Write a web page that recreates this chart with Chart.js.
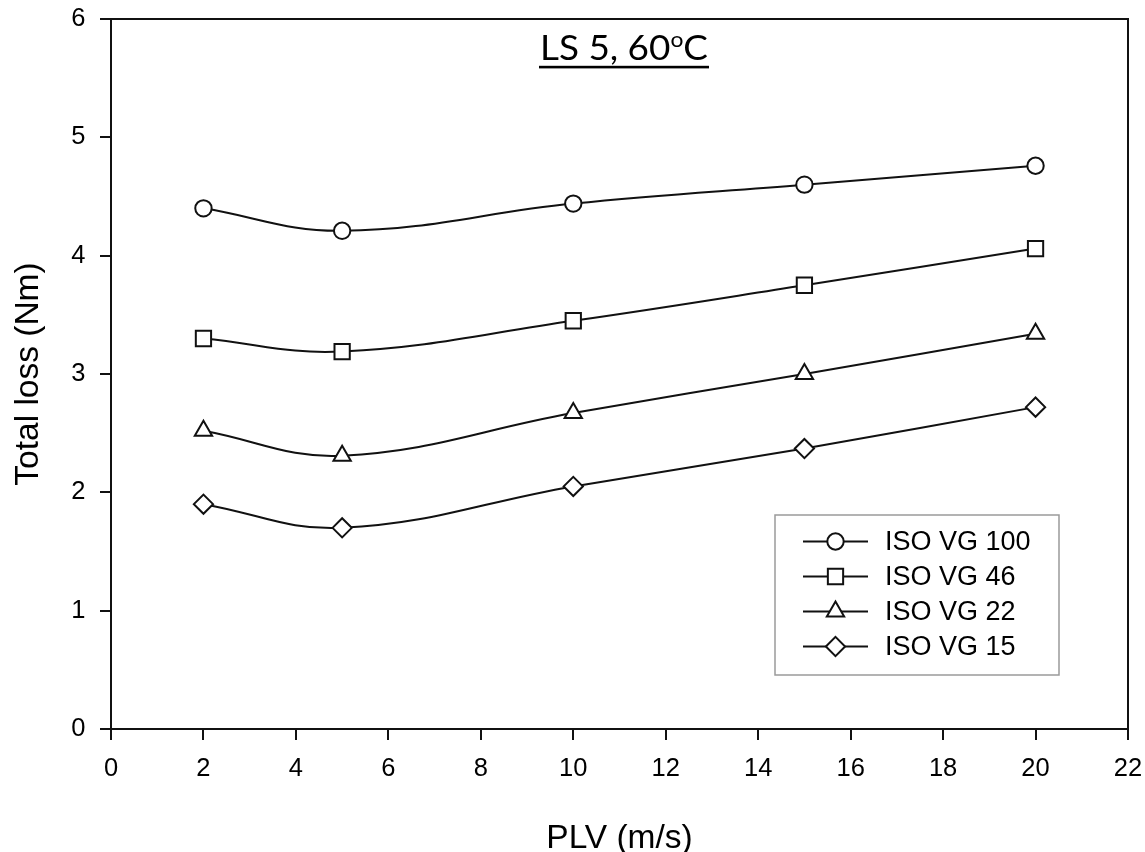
<!DOCTYPE html>
<html>
<head>
<meta charset="utf-8">
<script src="https://cdn.jsdelivr.net/npm/chart.js@4/dist/chart.umd.min.js"></script>
<style>
  html, body { margin: 0; padding: 0; background: #ffffff; }
  #wrap { width: 1145px; height: 852px; }
</style>
</head>
<body>
<div id="wrap"><canvas id="c" width="1145" height="852"></canvas></div>
<script>
// Pitch line velocity (m/s) and total loss (Nm) for each oil grade
const plv = [2, 5, 10, 15, 20];
const isoVG100 = [4.40, 4.21, 4.44, 4.60, 4.76];
const isoVG46  = [3.30, 3.19, 3.45, 3.75, 4.06];
const isoVG22  = [2.52, 2.31, 2.67, 3.00, 3.34];
const isoVG15  = [1.90, 1.70, 2.05, 2.37, 2.72];
const seriesNames = ['ISO VG 100', 'ISO VG 46', 'ISO VG 22', 'ISO VG 15'];
const xTickValues = [0, 2, 4, 6, 8, 10, 12, 14, 16, 18, 20, 22];
const yTickValues = [0, 1, 2, 3, 4, 5, 6];

const INK = '#111111';
const markers = [
  { style: 'circle',   radius: 8.2 },
  { style: 'rect',     radius: 10.8 },
  { style: 'triangle', radius: 10 },
  { style: 'rectRot',  radius: 9.6 }
];
const seriesValues = [isoVG100, isoVG46, isoVG22, isoVG15];

const datasets = seriesValues.map((vals, i) => ({
  label: seriesNames[i],
  data: plv.map((x, j) => ({ x: x, y: vals[j] })),
  borderColor: INK,
  borderWidth: 2,
  tension: 0.4,
  fill: false,
  pointStyle: markers[i].style,
  pointRadius: markers[i].radius,
  pointHoverRadius: markers[i].radius,
  pointBackgroundColor: '#ffffff',
  pointBorderColor: INK,
  pointBorderWidth: 2
}));

// Frame on all four sides of the plot area
const framePlugin = {
  id: 'frame',
  afterDatasetsDraw(chart) {
    const { ctx, chartArea: a } = chart;
    ctx.save();
    ctx.strokeStyle = INK;
    ctx.lineWidth = 2;
    ctx.strokeRect(a.left, a.top, a.right - a.left, a.bottom - a.top);
    ctx.restore();
  }
};

// Underlined heading "LS 5, 60°C" with a superscript o
const headingPlugin = {
  id: 'heading',
  afterDraw(chart) {
    const ctx = chart.ctx;
    const family = 'Lato, "Open Sans", sans-serif';
    const size = 35;
    const targetWidth = 168;
    const parts = [
      { t: 'LS 5, 60', k: 1, rise: 0 },
      { t: 'o', k: 0.62, rise: 0.36 },
      { t: 'C', k: 1, rise: 0 }
    ];
    ctx.save();
    const natural = parts.reduce((w, p) => {
      ctx.font = (size * p.k) + 'px ' + family;
      return w + ctx.measureText(p.t).width;
    }, 0);
    const sx = targetWidth / natural;
    const left = 540;
    const baseY = 60;
    ctx.fillStyle = '#000';
    ctx.textBaseline = 'alphabetic';
    ctx.textAlign = 'left';
    ctx.translate(left, 0);
    ctx.scale(sx, 1);
    let x = 0;
    parts.forEach(p => {
      ctx.font = (size * p.k) + 'px ' + family;
      ctx.fillText(p.t, x, baseY - p.rise * size);
      x += ctx.measureText(p.t).width;
    });
    ctx.setTransform(1, 0, 0, 1, 0, 0);
    ctx.fillRect(left - 1, 65.8, targetWidth + 2, 2.6);
    ctx.restore();
  }
};

// Boxed legend placed inside the plot area
const legendBoxPlugin = {
  id: 'legendBox',
  afterDraw(chart) {
    const ctx = chart.ctx;
    const box = { x: 775, y: 515, w: 284, h: 160 };
    ctx.save();
    ctx.strokeStyle = '#9a9a9a';
    ctx.lineWidth = 1.5;
    ctx.strokeRect(box.x, box.y, box.w, box.h);
    const rowY = [541.5, 576.5, 611.5, 646.5];
    chart.data.datasets.forEach((ds, i) => {
      const y = rowY[i];
      ctx.strokeStyle = INK;
      ctx.lineWidth = 2;
      ctx.beginPath();
      ctx.moveTo(803, y);
      ctx.lineTo(868, y);
      ctx.stroke();
      ctx.fillStyle = '#ffffff';
      ctx.lineWidth = 2;
      Chart.helpers.drawPoint(ctx, {
        pointStyle: ds.pointStyle, radius: ds.pointRadius, rotation: 0, borderWidth: 2
      }, 835.5, y);
      ctx.fillStyle = '#000';
      ctx.font = '27px "Liberation Sans", Arial, sans-serif';
      ctx.textBaseline = 'middle';
      ctx.textAlign = 'left';
      ctx.fillText(ds.label, 885, y + 1);
    });
    ctx.restore();
  }
};

const tickFont = { family: '"Liberation Sans", Arial, sans-serif', size: 25.5 };
const titleFont = { family: '"Liberation Sans", Arial, sans-serif', size: 33.5, lineHeight: 0.8 };

new Chart(document.getElementById('c'), {
  type: 'line',
  data: { datasets: datasets },
  options: {
    responsive: false,
    animation: false,
    layout: { padding: { left: 0, right: 17, top: 19, bottom: 0 } },
    plugins: {
      legend: { display: false },
      tooltip: { enabled: false }
    },
    scales: {
      x: {
        type: 'linear',
        min: 0, max: 22,
        afterBuildTicks(scale) { scale.ticks = xTickValues.map(v => ({ value: v })); },
        afterFit(scale) { scale.height = 123; scale.paddingLeft = 0; scale.paddingRight = 0; },
        border: { display: false },
        grid: { drawOnChartArea: false, drawTicks: true, tickLength: 11, color: INK, lineWidth: 2 },
        ticks: { color: '#000', font: tickFont, padding: 14, maxRotation: 0, autoSkip: false },
        title: { display: true, text: 'PLV (m/s)', color: '#000', font: titleFont, padding: { top: 0, bottom: 0 } }
      },
      y: {
        type: 'linear',
        min: 0, max: 6,
        afterBuildTicks(scale) { scale.ticks = yTickValues.map(v => ({ value: v })); },
        afterFit(scale) { scale.width = 111; scale.paddingTop = 0; scale.paddingBottom = 0; },
        border: { display: false },
        grid: { drawOnChartArea: false, drawTicks: true, tickLength: 11, color: INK, lineWidth: 2 },
        ticks: { color: '#000', font: tickFont, padding: 14.5, autoSkip: false },
        title: { display: true, text: 'Total loss (Nm)', color: '#000', font: titleFont, padding: { top: 15, bottom: 0 } }
      }
    }
  },
  plugins: [framePlugin, headingPlugin, legendBoxPlugin]
});
</script>
</body>
</html>
